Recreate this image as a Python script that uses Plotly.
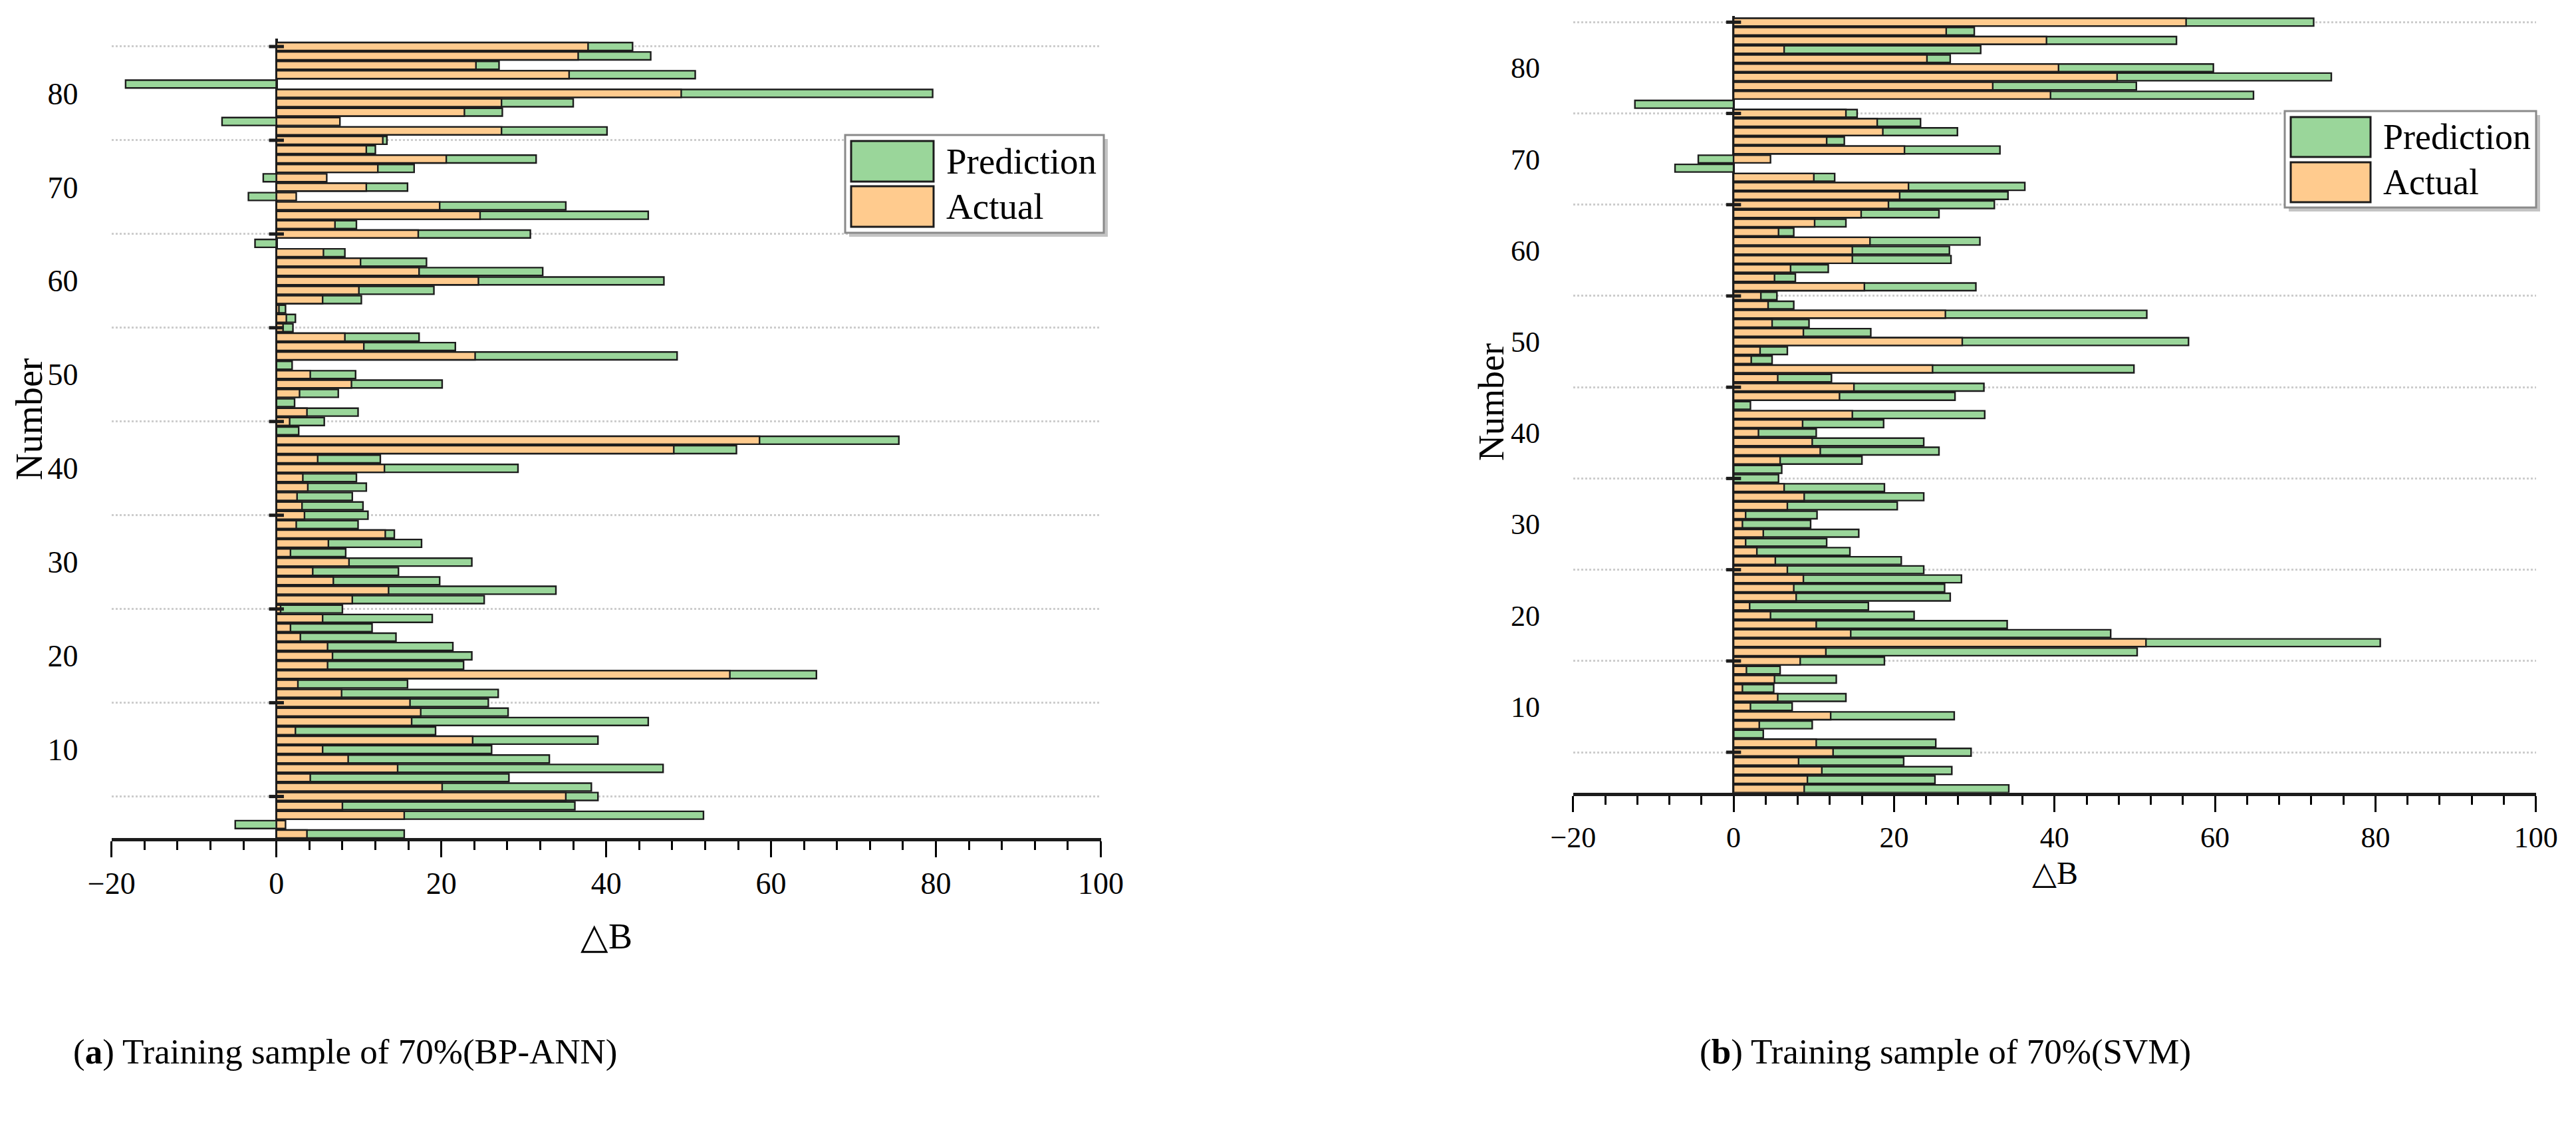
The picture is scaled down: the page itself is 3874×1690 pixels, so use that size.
import plotly.graph_objects as go

W, H = 3874, 1690

numbers = list(range(1, 86))
grid_rows = [5, 15, 25, 35, 45, 55, 65, 75, 85]

# (a) BP-ANN, Number 1..85
ann_actual = [3.7, 1.1, 15.5, 8.0, 35.1, 20.1, 4.1, 14.7, 8.7, 5.6,
              23.8, 2.3, 16.4, 17.5, 16.2, 7.9, 2.6, 55.0, 6.2, 6.8,
              6.2, 2.9, 1.7, 5.6, 0.5, 9.2, 13.6, 6.9, 4.4, 8.8,
              1.7, 6.3, 13.2, 2.4, 3.4, 3.1, 2.5, 3.8, 3.2, 13.1,
              5.0, 48.2, 58.6, 0.0, 1.6, 3.7, 0.0, 2.8, 9.1, 4.1,
              0.0, 24.1, 10.6, 8.3, 0.8, 1.2, 0.3, 5.6, 10.0, 24.5,
              17.3, 10.2, 5.7, 0.0, 17.2, 7.1, 24.7, 19.8, 2.4, 10.9,
              6.1, 12.3, 20.6, 10.9, 12.9, 27.3, 7.7, 22.8, 27.3, 49.1,
              0.0, 35.5, 24.2, 36.6, 37.8]
ann_pred = [15.5, -5.0, 51.8, 36.2, 39.0, 38.2, 28.2, 46.9, 33.1, 26.1,
            39.0, 19.3, 45.1, 28.1, 25.7, 26.9, 15.9, 65.5, 22.7, 23.7,
            21.4, 14.5, 11.6, 18.9, 8.0, 25.2, 33.9, 19.8, 14.8, 23.7,
            8.4, 17.6, 14.3, 9.9, 11.1, 10.5, 9.2, 10.9, 9.7, 29.3,
            12.6, 55.8, 75.5, 2.7, 5.8, 9.9, 2.2, 7.5, 20.1, 9.6,
            1.9, 48.6, 21.7, 17.3, 2.0, 2.3, 1.1, 10.3, 19.1, 47.0,
            32.3, 18.2, 8.3, -2.6, 30.8, 9.7, 45.1, 35.1, -3.4, 15.9,
            -1.6, 16.7, 31.5, 12.0, 13.4, 40.1, -6.6, 27.4, 36.0, 79.6,
            -18.3, 50.8, 27.0, 45.4, 43.2]

# (b) SVM, Number 1..85
svm_actual = [8.8, 9.2, 11.0, 8.1, 12.4, 10.3, 0.0, 3.2, 12.1, 2.1,
              5.5, 1.1, 5.1, 1.6, 8.3, 11.5, 51.4, 14.6, 10.3, 4.6,
              2.0, 7.8, 7.5, 8.7, 6.7, 5.2, 2.9, 1.5, 3.7, 1.1,
              1.5, 6.7, 8.8, 6.3, 0.0, 0.0, 5.8, 10.8, 9.8, 3.1,
              8.6, 14.8, 0.0, 13.2, 15.0, 5.5, 24.8, 2.2, 3.3, 28.5,
              8.7, 4.8, 26.4, 4.3, 3.4, 16.3, 5.1, 7.1, 14.8, 14.8,
              17.0, 5.6, 10.1, 15.9, 19.3, 20.7, 21.8, 10.0, 0.0, 4.6,
              21.3, 11.6, 18.6, 17.9, 14.0, 0.0, 39.5, 32.3, 47.8, 40.5,
              24.1, 6.3, 39.0, 26.5, 56.4]
svm_pred = [34.3, 25.1, 27.2, 21.2, 29.6, 25.2, 3.7, 9.8, 27.5, 7.3,
            14.0, 5.0, 12.8, 5.8, 18.8, 50.3, 80.6, 47.0, 34.1, 22.5,
            16.8, 27.0, 26.3, 28.4, 23.7, 20.9, 14.5, 11.6, 15.6, 9.6,
            10.4, 20.4, 23.7, 18.8, 5.6, 6.0, 16.0, 25.6, 23.7, 10.3,
            18.7, 31.3, 2.1, 27.6, 31.2, 12.2, 49.9, 4.8, 6.7, 56.7,
            17.1, 9.4, 51.5, 7.5, 5.4, 30.2, 7.7, 11.8, 27.1, 26.9,
            30.7, 7.5, 14.0, 25.6, 32.5, 34.2, 36.3, 12.6, -7.3, -4.4,
            33.2, 13.8, 27.9, 23.3, 15.4, -12.3, 64.8, 50.2, 74.5, 59.8,
            27.0, 30.8, 55.2, 30.0, 72.3]

series_names = ["Prediction", "Actual"]
x_tick_vals = [-20, 0, 20, 40, 60, 80, 100]
x_title = "△B"
y_title = "Number"
captions = ["(<b>a</b>) Training sample of 70%(BP-ANN)",
            "(<b>b</b>) Training sample of 70%(SVM)"]

GREEN = "#9AD69A"
ORANGE = "#FFCB8E"
EDGE = "#1c1c1c"
SERIF = "Liberation Serif"


def px(x):
    return x / W


def py(y):
    return 1 - y / H


fig = go.Figure()
panels = [("x", "y", ann_actual, ann_pred), ("x2", "y2", svm_actual, svm_pred)]
for xa, ya, act, pred in panels:
    fig.add_trace(go.Bar(y=numbers, x=pred, orientation="h", name=series_names[0],
                         marker=dict(color=GREEN, line=dict(color=EDGE, width=2.4)),
                         width=0.84, xaxis=xa, yaxis=ya, showlegend=False))
    fig.add_trace(go.Bar(y=numbers, x=act, orientation="h", name=series_names[1],
                         marker=dict(color=ORANGE, line=dict(color=EDGE, width=2.4)),
                         width=0.84, xaxis=xa, yaxis=ya, showlegend=False))
    # small tick marks on the vertical axis line at x = 0
    fig.add_trace(go.Scatter(x=[0] * len(grid_rows), y=grid_rows, mode="markers",
                             marker=dict(symbol="line-ew", size=16,
                                         line=dict(color=EDGE, width=5)),
                             xaxis=xa, yaxis=ya, showlegend=False, hoverinfo="skip",
                             cliponaxis=False))


def xaxis_cfg(domain, anchor, fsize):
    return dict(domain=domain, anchor=anchor, range=[-20, 100], automargin=False,
                tickmode="array", tickvals=x_tick_vals,
                ticks="outside", ticklen=24, tickwidth=3, tickcolor="black",
                showline=True, linewidth=5, linecolor=EDGE, showgrid=False,
                zeroline=True, zerolinecolor=EDGE, zerolinewidth=3.5,
                minor=dict(dtick=4, tick0=0, ticks="outside", ticklen=13, tickwidth=2.5,
                           tickcolor="black", showgrid=False),
                tickfont=dict(family=SERIF, size=fsize, color="black"), fixedrange=True)


def yaxis_cfg(domain, rng, anchor, fsize):
    return dict(domain=domain, range=rng, tick0=10, dtick=10, anchor=anchor,
                automargin=False,
                ticks="outside", ticklen=40, tickcolor="rgba(0,0,0,0)",
                showline=False, showgrid=False, zeroline=False,
                minor=dict(tick0=5, dtick=10, showgrid=True, gridcolor="#cdcdcd",
                           griddash="dot", gridwidth=3),
                tickfont=dict(family=SERIF, size=fsize, color="black"), fixedrange=True)


fig.update_layout(
    width=W, height=H, margin=dict(l=0, r=0, t=0, b=0, autoexpand=False),
    paper_bgcolor="white", plot_bgcolor="white",
    barmode="overlay", showlegend=False,
    xaxis=xaxis_cfg([px(167.8), px(1655.5)], "y", 46),
    yaxis=yaxis_cfg([py(1260), py(58)], [0.57, 85.85], "x", 46),
    xaxis2=xaxis_cfg([px(2365.8), px(3813.7)], "y2", 44),
    yaxis2=yaxis_cfg([py(1191.7), py(24)], [0.58, 85.68], "x2", 44),
)

annotations = []
shapes = []


def text(x, y, s, size, xanchor="center", angle=0):
    annotations.append(dict(x=px(x), y=py(y), xref="paper", yref="paper", text=s,
                            showarrow=False, xanchor=xanchor, yanchor="middle",
                            textangle=angle,
                            font=dict(family=SERIF, size=size, color="black")))


# axis titles
text(911.7, 1408, x_title, 54)
text(3090, 1312, x_title, 48)
text(44, 630, y_title, 56, angle=-90)
text(2243, 605, y_title, 54, angle=-90)
# captions
text(519, 1581, captions[0], 53)
text(2925, 1581, captions[1], 53)


def legend(x0, y0, x1, y1, sw_w, sw_h, gap, fsize):
    shapes.append(dict(type="rect", xref="paper", yref="paper",
                       x0=px(x0 + 6), x1=px(x1 + 6), y0=py(y1 + 6), y1=py(y0 + 6),
                       fillcolor="#c4c4c4", line=dict(width=0), layer="above"))
    shapes.append(dict(type="rect", xref="paper", yref="paper",
                       x0=px(x0), x1=px(x1), y0=py(y1), y1=py(y0),
                       fillcolor="white", line=dict(color="#8a8a8a", width=3), layer="above"))
    sx0 = x0 + 9
    for i, (name, col) in enumerate(zip(series_names, [GREEN, ORANGE])):
        top = y0 + 9 + i * (sw_h + gap)
        shapes.append(dict(type="rect", xref="paper", yref="paper",
                           x0=px(sx0), x1=px(sx0 + sw_w), y0=py(top + sw_h), y1=py(top),
                           fillcolor=col, line=dict(color=EDGE, width=3), layer="above"))
        text(sx0 + sw_w + 17, top + sw_h / 2, name, fsize, xanchor="left")


legend(1271, 203, 1660, 350, 124, 61, 7, 55)
legend(3436, 167, 3814, 312, 120, 60, 8, 54)

fig.update_layout(annotations=annotations, shapes=shapes)
fig.write_html("out.html")
